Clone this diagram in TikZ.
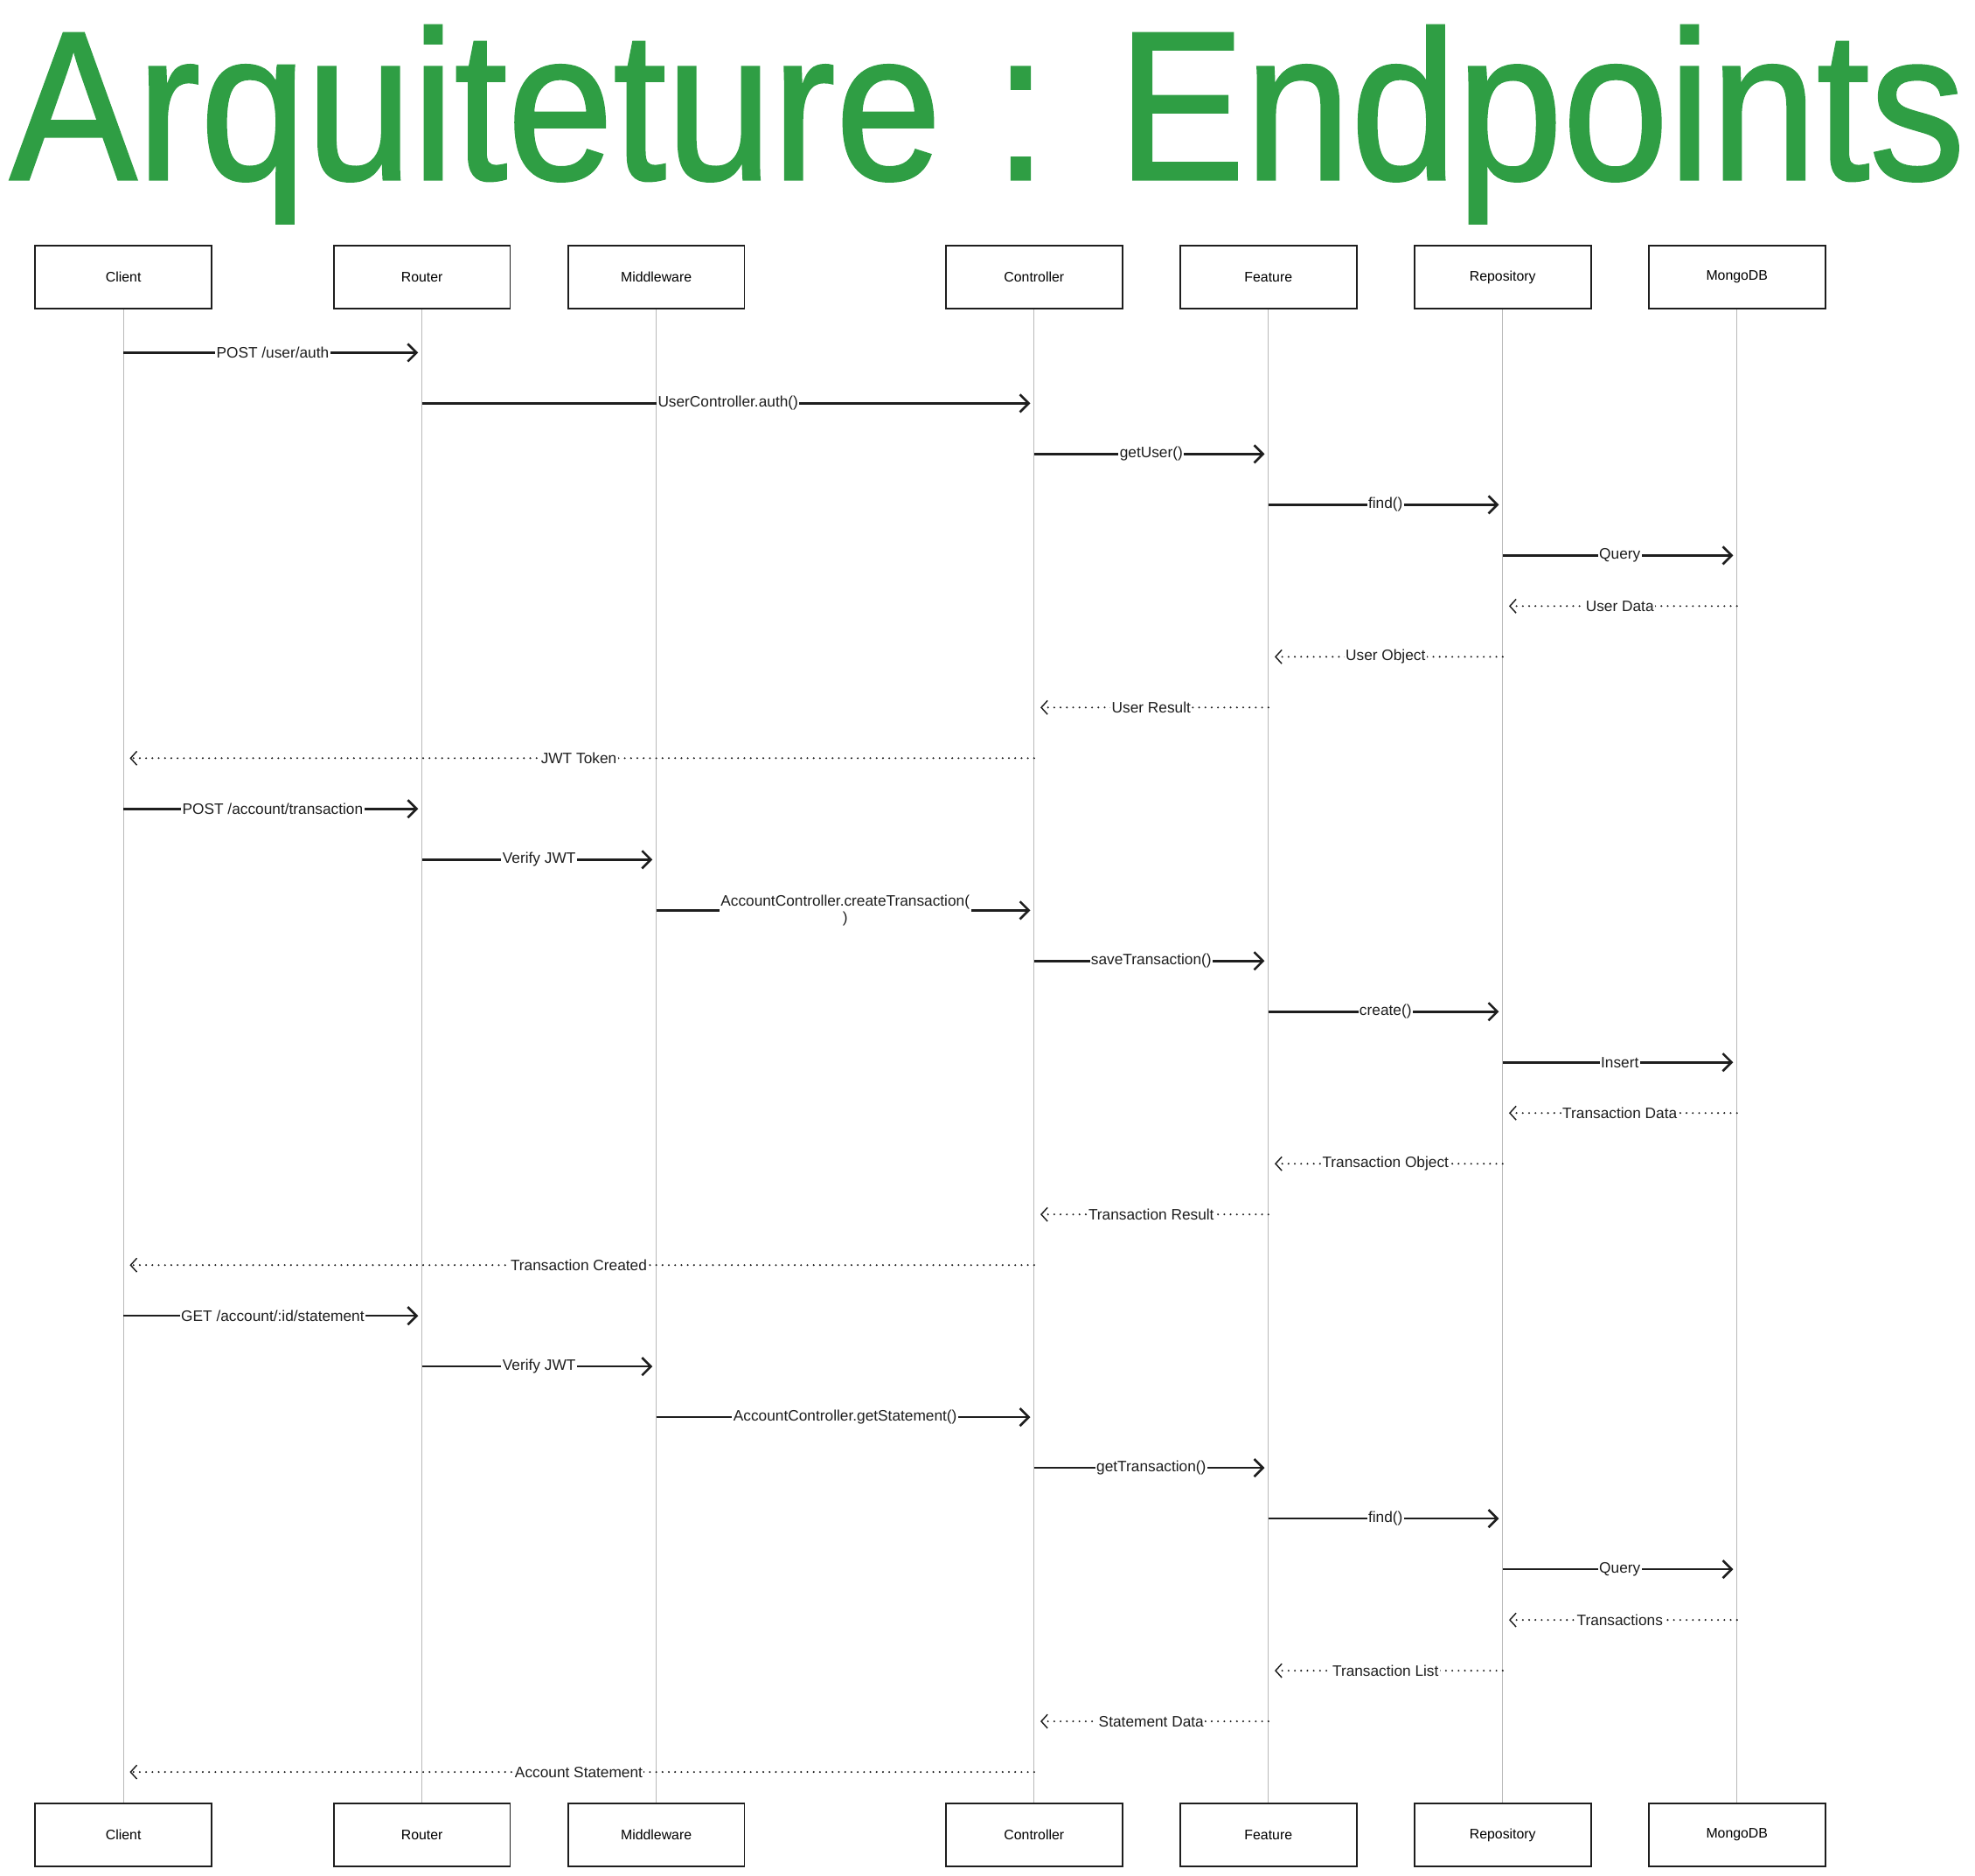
\documentclass[tikz,border=0pt]{standalone}
\usepackage{fontspec}
\setmainfont{Liberation Sans}
\newfontfamily\titlefont{Liberation Sans}[FakeBold=1.2]
\usetikzlibrary{arrows.meta}
\definecolor{titlegreen}{RGB}{47,158,68}
\definecolor{inkblack}{RGB}{30,30,30}

\tikzset{
    actor/.style={draw=inkblack, line width=1.3pt, fill=white, minimum width=140pt, minimum height=50pt, font=\fontsize{11}{13}\selectfont},
    lifeline/.style={gray!55, line width=0.8pt},
    call/.style={inkblack, line width=1.8pt, shorten >=3pt, -{Straight Barb[length=7pt,width=14pt,line width=1.8pt]}},
    reply/.style={inkblack, line width=1.6pt, line cap=round, dash pattern=on 0pt off 5pt, shorten >=5pt, -{Straight Barb[length=5pt,width=11pt,line width=1pt]}},
    msglabel/.style={fill=white, inner sep=1pt, font=\fontsize{12}{13}\selectfont, align=center}
}

\begin{document}
\begin{tikzpicture}[x=1pt, y=-1pt]
    \useasboundingbox (0,0) rectangle (1568,1489);

    % Title
    \node[anchor=north, inner sep=0pt, text=titlegreen] (title) at (784,20)
        {\resizebox*{1552pt}{157pt}{\titlefont Arquiteture : Endpoints}};

    % Participants and lifelines
    \foreach \name/\label/\x in {client/Client/98, router/Router/335, middleware/Middleware/521,
        controller/Controller/821, feature/Feature/1007, repository/Repository/1193, mongodb/MongoDB/1379} {
        \node[actor] (\name-top) at (\x,220) {\label};
        \node[actor] (\name-bot) at (\x,1457) {\label};
        \draw[lifeline] (\name-top) -- (\name-bot);
    }

    % Messages
    \foreach \i/\from/\to/\kind/\text in {
        1/client/router/call/{POST /user/auth},
        2/router/controller/call/{UserController.auth()},
        3/controller/feature/call/{getUser()},
        4/feature/repository/call/{find()},
        5/repository/mongodb/call/{Query},
        6/mongodb/repository/reply/{User Data},
        7/repository/feature/reply/{User Object},
        8/feature/controller/reply/{User Result},
        9/controller/client/reply/{JWT Token},
        10/client/router/call/{POST /account/transaction},
        11/router/middleware/call/{Verify JWT},
        12/middleware/controller/call/{AccountController.createTransaction(\\)},
        13/controller/feature/call/{saveTransaction()},
        14/feature/repository/call/{create()},
        15/repository/mongodb/call/{Insert},
        16/mongodb/repository/reply/{Transaction Data},
        17/repository/feature/reply/{Transaction Object},
        18/feature/controller/reply/{Transaction Result},
        19/controller/client/reply/{Transaction Created},
        20/client/router/call/{GET /account/:id/statement},
        21/router/middleware/call/{Verify JWT},
        22/middleware/controller/call/{AccountController.getStatement()},
        23/controller/feature/call/{getTransaction()},
        24/feature/repository/call/{find()},
        25/repository/mongodb/call/{Query},
        26/mongodb/repository/reply/{Transactions},
        27/repository/feature/reply/{Transaction List},
        28/feature/controller/reply/{Statement Data},
        29/controller/client/reply/{Account Statement}} {
        \pgfmathsetmacro\y{280+(\i-1)*40.25}
        \coordinate (m\i-start) at (\from-top |- 0,\y);
        \coordinate (m\i-end) at (\to-top |- 0,\y);
        \draw[\kind] (m\i-start) -- node[msglabel] (m\i-label) {\text} (m\i-end);
    }
\end{tikzpicture}
\end{document}
